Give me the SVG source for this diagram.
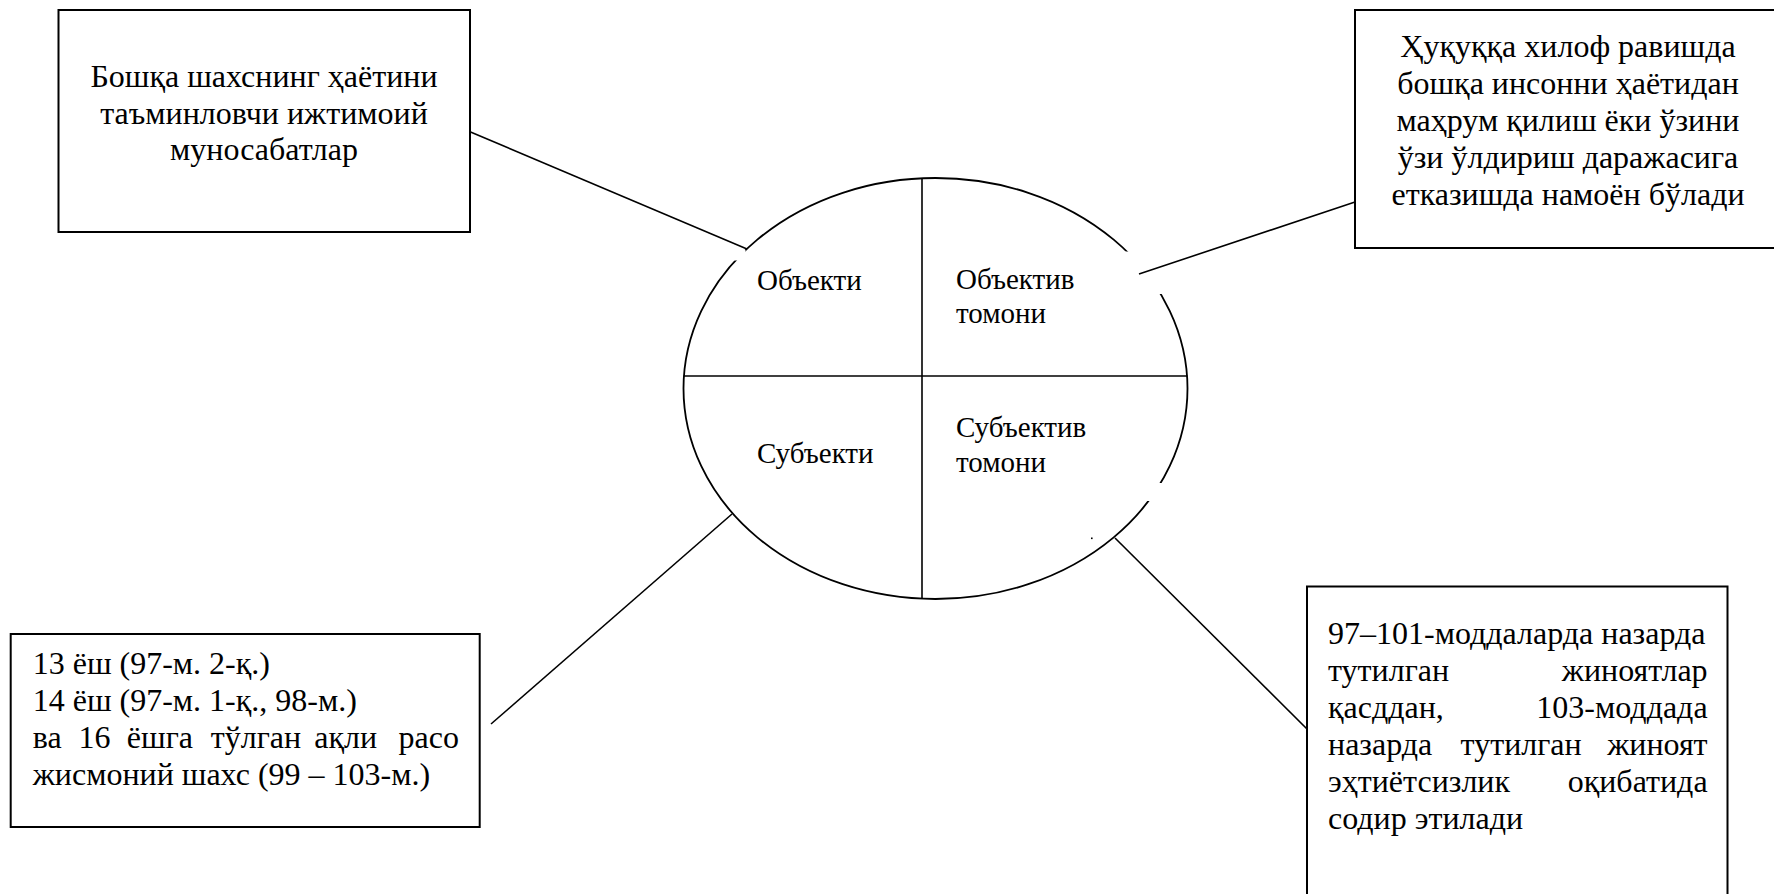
<svg xmlns="http://www.w3.org/2000/svg" width="1774" height="894" viewBox="0 0 1774 894">
<style>
.box{fill:#fff;stroke:#000;stroke-width:2}
.ln{stroke:#000;stroke-width:1.6;fill:none}
.gap{fill:#fff;stroke:none}
.t{font-family:"Liberation Serif","Times New Roman",serif;font-size:32px;fill:#000}
.e{font-size:29px}
.mid{text-anchor:middle}
.end{text-anchor:end}
</style>
<rect x="0" y="0" width="1774" height="894" fill="#fff"/>
<g id="center-ellipse">
  <ellipse cx="935.5" cy="388.5" rx="252" ry="210.5" fill="#fff" stroke="#000" stroke-width="1.8"/>
  <line class="ln" x1="922" y1="178" x2="922" y2="599"/>
  <line class="ln" x1="683.5" y1="376" x2="1187.5" y2="376"/>
  <rect class="gap" x="722" y="250" width="23.5" height="10.5"/>
  <rect class="gap" x="1118" y="251.5" width="70" height="42.5"/>
  <rect class="gap" x="1138" y="483" width="50" height="18"/>
  <rect x="1091" y="537.5" width="1.6" height="1.6" fill="#000"/>
  <text class="t e" x="757" y="290">Объекти</text>
  <text class="t e" x="956" y="289">Объектив</text>
  <text class="t e" x="956" y="323">томони</text>
  <text class="t e" x="757" y="463">Субъекти</text>
  <text class="t e" x="956" y="437">Субъектив</text>
  <text class="t e" x="956" y="472">томони</text>
</g>
<g id="connectors">
  <line class="ln" x1="467.6" y1="130.7" x2="747" y2="249"/>
  <line class="ln" x1="1355" y1="202" x2="1139" y2="274"/>
  <line class="ln" x1="491" y1="724" x2="732" y2="514"/>
  <line class="ln" x1="1115" y1="538" x2="1307" y2="729"/>
</g>
<g id="node-object">
  <rect class="box" x="58.5" y="10" width="411.5" height="222"/>
  <text class="t mid" x="264" y="87">Бошқа шахснинг ҳаётини</text>
  <text class="t mid" x="264" y="123.5">таъминловчи ижтимоий</text>
  <text class="t mid" x="264" y="160">муносабатлар</text>
</g>
<g id="node-objective-side">
  <rect class="box" x="1355" y="10" width="440" height="238"/>
  <text class="t mid" x="1568" y="57">Ҳуқуққа хилоф равишда</text>
  <text class="t mid" x="1568" y="94">бошқа инсонни ҳаётидан</text>
  <text class="t mid" x="1568" y="131">маҳрум қилиш ёки ўзини</text>
  <text class="t mid" x="1568" y="168">ўзи ўлдириш даражасига</text>
  <text class="t mid" x="1568" y="205">етказишда намоён бўлади</text>
</g>
<g id="node-subject">
  <rect class="box" x="10.7" y="634" width="469" height="193"/>
  <text class="t" x="32.7" y="674">13 ёш (97-м. 2-қ.)</text>
  <text class="t" x="32.7" y="711">14 ёш (97-м. 1-қ., 98-м.)</text>
  <text class="t" y="748"><tspan x="32.7">ва</tspan><tspan x="78.6">16</tspan><tspan x="126.8">ёшга</tspan><tspan x="210.7">тўлган</tspan><tspan x="314.3">ақли</tspan><tspan class="end" x="459">расо</tspan></text>
  <text class="t" x="32.7" y="785">жисмоний шахс (99 – 103-м.)</text>
</g>
<g id="node-subjective-side">
  <rect class="box" x="1307" y="586.5" width="420.5" height="320"/>
  <text class="t" x="1328" y="644">97–101-моддаларда назарда</text>
  <text class="t" x="1328" y="681">тутилган</text>
  <text class="t end" x="1707.6" y="681">жиноятлар</text>
  <text class="t" x="1328" y="718">қасддан,</text>
  <text class="t end" x="1707.6" y="718">103-моддада</text>
  <text class="t" x="1328" y="755">назарда</text>
  <text class="t" x="1460.6" y="755">тутилган</text>
  <text class="t end" x="1707.6" y="755">жиноят</text>
  <text class="t" x="1328" y="792">эҳтиётсизлик</text>
  <text class="t end" x="1707.6" y="792">оқибатида</text>
  <text class="t" x="1328" y="829">содир этилади</text>
</g>
</svg>
